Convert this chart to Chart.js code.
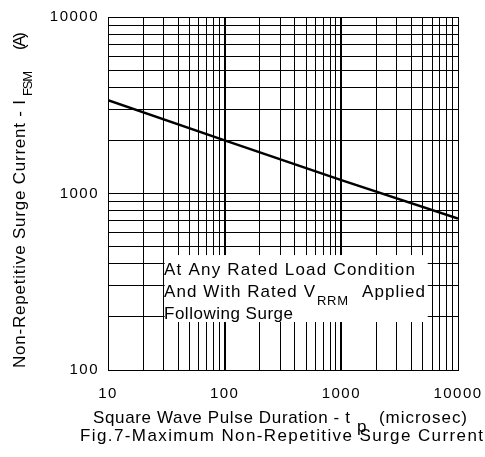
<!DOCTYPE html>
<html>
<head>
<meta charset="utf-8">
<script src="https://cdn.jsdelivr.net/npm/chart.js@4.4.1/dist/chart.umd.min.js"></script>
<style>
  html, body { margin: 0; padding: 0; background: #fff; }
  #wrap { width: 485px; height: 457px; }
</style>
</head>
<body>
<div id="wrap"><canvas id="surge" width="485" height="457"></canvas></div>
<script>
// max non-repetitive surge current vs square pulse width
const pulseWidths = [10, 100, 1000, 10000];      // microsec
const surgeCurrent = [3380, 2000, 1190, 722];    // A

// log grid, 1..9 per decade
const xTicks = [10, 20, 30, 40, 50, 60, 70, 80, 90,
  100, 200, 300, 400, 500, 600, 700, 800, 900,
  1000, 2000, 3000, 4000, 5000, 6000, 7000, 8000, 9000, 10000];
const yTicks = [100, 200, 300, 400, 500, 600, 700, 800, 900,
  1000, 2000, 3000, 4000, 5000, 6000, 7000, 8000, 9000, 10000];
const xLabels = [10, 100, 1000, 10000];
const yLabels = [100, 1000, 10000];

const FONT = '"Liberation Sans", Arial, Helvetica, sans-serif';

// draw text stretched to a given width with letter spacing
function fitText(ctx, text, x, y, width, size) {
  ctx.font = size + 'px ' + FONT;
  ctx.letterSpacing = '0px';
  const w = ctx.measureText(text).width;
  const ls = text.length > 1 ? (width - w) / (text.length - 1) : 0;
  ctx.letterSpacing = ls + 'px';
  ctx.fillText(text, x, y);
  ctx.letterSpacing = '0px';
}

const textPlugin = {
  id: 'surgeText',
  beforeDraw(chart) {
    chart.ctx.letterSpacing = '1.5px';
  },
  beforeDatasetsDraw(chart) {
    const { ctx, scales: { x, y } } = chart;
    // note box covering the grid
    const l = x.getPixelForValue(30) + 1;
    const r = x.getPixelForValue(5500);
    const t = y.getPixelForValue(448);
    const b = y.getPixelForValue(187);
    ctx.save();
    ctx.letterSpacing = '0px';
    ctx.fillStyle = '#fff';
    ctx.fillRect(l, t, r - l, b - t);
    ctx.fillStyle = '#000';
    ctx.textBaseline = 'alphabetic';
    ctx.textAlign = 'left';
    fitText(ctx, 'At Any Rated Load Condition', 164, 275, 251, 17);
    fitText(ctx, 'And With Rated V', 164, 297, 151, 17);
    fitText(ctx, 'RRM', 317, 305, 31, 13);
    fitText(ctx, 'Applied', 362, 297, 63, 17);
    fitText(ctx, 'Following Surge', 164, 319, 129, 17);
    ctx.restore();
  },
  afterDraw(chart) {
    const ctx = chart.ctx;
    ctx.save();
    ctx.fillStyle = '#000';
    ctx.textBaseline = 'alphabetic';
    ctx.textAlign = 'left';
    // x axis title + figure caption
    fitText(ctx, 'Square Wave Pulse Duration - t', 93, 423, 257, 17);
    fitText(ctx, 'p', 357, 432, 8, 17);
    fitText(ctx, '(microsec)', 379, 423, 88, 17);
    fitText(ctx, 'Fig.7-Maximum Non-Repetitive Surge Current', 80, 441, 403, 17);
    // y axis title, rotated
    ctx.translate(25, 368);
    ctx.rotate(-Math.PI / 2);
    fitText(ctx, 'Non-Repetitive Surge Current - I', 0, 0, 268, 17);
    fitText(ctx, 'FSM', 272, 7, 25, 13);
    fitText(ctx, '(A)', 318, 0, 18, 17);
    ctx.restore();
    ctx.letterSpacing = '0px';
  }
};

new Chart(document.getElementById('surge'), {
  type: 'line',
  data: {
    datasets: [{
      data: pulseWidths.map((t, i) => ({ x: t, y: surgeCurrent[i] })),
      borderColor: '#000',
      borderWidth: 2.5,
      pointRadius: 0,
      tension: 0
    }]
  },
  options: {
    responsive: false,
    devicePixelRatio: 1,
    animation: false,
    layout: { padding: { top: 17, right: 27, left: 0, bottom: 0 } },
    plugins: {
      legend: { display: false },
      tooltip: { enabled: false }
    },
    scales: {
      x: {
        type: 'logarithmic',
        position: 'bottom',
        min: 10,
        max: 10000,
        afterBuildTicks: (axis) => { axis.ticks = xTicks.map(v => ({ value: v })); },
        afterFit: (axis) => {
          axis.height = 87;
          axis.paddingLeft = 0;
          axis.paddingRight = 0;
        },
        ticks: {
          autoSkip: false,
          maxRotation: 0,
          padding: 15,
          color: '#000',
          font: { family: FONT, size: 15 },
          callback: (v) => xLabels.includes(v) ? String(v) : ''
        },
        grid: {
          color: '#000',
          lineWidth: (c) => (c.tick && (c.tick.value === 100 || c.tick.value === 1000)) ? 2 : 1,
          drawTicks: false
        },
        border: { color: '#000', width: 1 }
      },
      y: {
        type: 'logarithmic',
        min: 100,
        max: 10000,
        afterBuildTicks: (axis) => { axis.ticks = yTicks.map(v => ({ value: v })); },
        afterFit: (axis) => {
          axis.width = 108;
          axis.paddingTop = 0;
          axis.paddingBottom = 0;
        },
        ticks: {
          autoSkip: false,
          padding: 9,
          color: '#000',
          font: { family: FONT, size: 15 },
          callback: (v) => yLabels.includes(v) ? String(v) : ''
        },
        grid: { color: '#000', lineWidth: 1, drawTicks: false },
        border: { color: '#000', width: 1 }
      }
    }
  },
  plugins: [textPlugin]
});
</script>
</body>
</html>
